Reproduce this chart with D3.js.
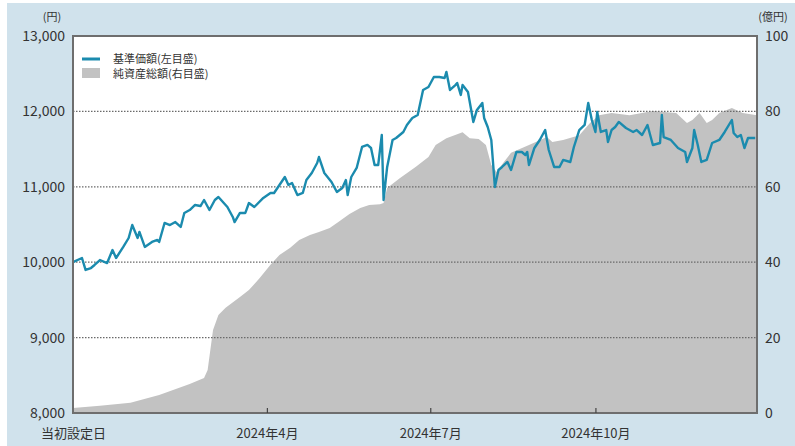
<!DOCTYPE html>
<html>
<head>
<meta charset="utf-8">
<script src="https://cdn.jsdelivr.net/npm/d3@7"></script>
<style>
  body { margin: 0; background: #fff; }
  text { font-family: "Noto Sans CJK JP", "Noto Sans", sans-serif; fill: #333; }
</style>
</head>
<body>
<svg width="795" height="446"></svg>
<script>
const svg = d3.select("svg");
const W = 795, H = 446;
const margin = { top: 36, right: 38, bottom: 33, left: 73 };
const width = W - margin.left - margin.right;
const height = H - margin.top - margin.bottom;

// 基準価額 (円)
const navDates = [
  "2023-12-15","2023-12-20","2023-12-22","2023-12-25","2023-12-27","2023-12-30",
  "2024-01-03","2024-01-06","2024-01-08","2024-01-12","2024-01-15","2024-01-17","2024-01-20","2024-01-21","2024-01-24","2024-01-28","2024-01-31",
  "2024-02-01","2024-02-04","2024-02-07","2024-02-10","2024-02-13","2024-02-15","2024-02-18","2024-02-21","2024-02-24","2024-02-26","2024-02-29",
  "2024-03-03","2024-03-05","2024-03-09","2024-03-10","2024-03-13","2024-03-14","2024-03-17","2024-03-20","2024-03-22","2024-03-25","2024-03-30",
  "2024-04-03","2024-04-05","2024-04-08","2024-04-11","2024-04-13","2024-04-15","2024-04-18","2024-04-21","2024-04-23","2024-04-26","2024-04-29","2024-04-30",
  "2024-05-03","2024-05-07","2024-05-10","2024-05-13","2024-05-15","2024-05-16","2024-05-18","2024-05-21","2024-05-24","2024-05-27","2024-05-29","2024-05-31",
  "2024-06-02","2024-06-04","2024-06-05","2024-06-07","2024-06-10","2024-06-12","2024-06-16","2024-06-18","2024-06-21","2024-06-24","2024-06-27","2024-06-30",
  "2024-07-03","2024-07-06","2024-07-09","2024-07-10","2024-07-12","2024-07-15","2024-07-16","2024-07-18","2024-07-19","2024-07-22","2024-07-25","2024-07-27","2024-07-30","2024-07-31",
  "2024-08-02","2024-08-04","2024-08-06","2024-08-08","2024-08-10","2024-08-13","2024-08-15","2024-08-18","2024-08-21","2024-08-23","2024-08-24","2024-08-25","2024-08-28","2024-08-31",
  "2024-09-03","2024-09-05","2024-09-08","2024-09-11","2024-09-13","2024-09-17","2024-09-19","2024-09-22","2024-09-25","2024-09-27","2024-09-29",
  "2024-10-01","2024-10-02","2024-10-04","2024-10-07","2024-10-08","2024-10-10","2024-10-12","2024-10-14","2024-10-18","2024-10-22","2024-10-24","2024-10-27","2024-10-30",
  "2024-11-02","2024-11-06","2024-11-07","2024-11-08","2024-11-12","2024-11-16","2024-11-20","2024-11-21","2024-11-24","2024-11-25","2024-11-27","2024-11-29",
  "2024-12-02","2024-12-05","2024-12-09","2024-12-12","2024-12-16","2024-12-17","2024-12-19","2024-12-21","2024-12-23","2024-12-25","2024-12-29"
];
const navValues = [
  10000,10056,9897,9923,9963,10029,
  9989,10162,10056,10202,10321,10493,10321,10401,10202,10268,10295,
  10268,10520,10493,10533,10467,10653,10692,10759,10745,10825,10692,
  10825,10865,10759,10732,10600,10533,10653,10653,10785,10732,10852,
  10918,10918,11024,11130,11024,11050,10891,10918,11090,11183,11316,11395,
  11183,11064,10931,10984,11090,10891,11130,11250,11528,11555,11515,11289,
  11289,11687,10825,11263,11621,11647,11727,11820,11913,11952,12284,12324,
  12456,12456,12443,12523,12284,12350,12377,12218,12350,12257,11860,12019,12112,11913,
  11793,11621,10997,11223,11263,11329,11223,11462,11462,11422,11462,11289,11515,11621,
  11753,11488,11263,11263,11356,11329,11528,11753,11820,12112,11886,
  11727,11992,11727,11753,11594,11753,11793,11860,11780,11727,11753,11687,11820,
  11554,11581,11952,11660,11621,11515,11462,11329,11515,11753,11554,11329,
  11356,11581,11621,11727,11886,11714,11660,11687,11515,11647,11647
];

// 純資産総額 (億円)
const assetDates = [
  "2023-12-15","2023-12-30","2024-01-16","2024-02-01","2024-02-18","2024-02-26","2024-02-28",
  "2024-03-02","2024-03-05","2024-03-09","2024-03-17","2024-03-22","2024-03-28",
  "2024-04-03","2024-04-08","2024-04-14","2024-04-19","2024-04-25","2024-04-30",
  "2024-05-06","2024-05-11","2024-05-17","2024-05-23","2024-05-28",
  "2024-06-03","2024-06-05","2024-06-07","2024-06-14","2024-06-23","2024-06-30",
  "2024-07-04","2024-07-10","2024-07-19","2024-07-23","2024-07-28",
  "2024-08-01","2024-08-04","2024-08-07","2024-08-11","2024-08-15","2024-08-25",
  "2024-09-04","2024-09-07","2024-09-13","2024-09-22","2024-09-28",
  "2024-10-03","2024-10-10","2024-10-20",
  "2024-11-02","2024-11-15","2024-11-21","2024-11-24","2024-11-28",
  "2024-12-02","2024-12-05","2024-12-09","2024-12-16","2024-12-22","2024-12-30"
];
const assetValues = [
  1.3,1.9,2.7,4.8,7.7,9.3,11.4,
  22.0,26.0,27.9,30.8,32.6,35.8,
  39.3,41.9,43.8,45.9,47.2,48.0,
  49.1,50.7,52.8,54.4,55.2,
  55.4,55.7,59.7,62.3,65.3,67.9,
  71.1,72.9,74.5,72.9,72.7,
  71.1,65.8,63.9,66.6,69.0,71.1,
  73.2,71.9,72.4,73.7,76.9,
  79.0,79.6,79.0,
  80.1,79.6,76.9,77.7,79.6,
  76.9,77.7,79.6,80.9,79.6,79.0
];

const leftTicks = [8000, 9000, 10000, 11000, 12000, 13000];
const rightTicks = [0, 20, 40, 60, 80, 100];
const xTickDates = ["2023-12-15", "2024-04-01", "2024-07-01", "2024-10-01"];
const xTickLabels = ["当初設定日", "2024年4月", "2024年7月", "2024年10月"];
const legendLabels = ["基準価額(左目盛)", "純資産総額(右目盛)"];

const parse = d3.timeParse("%Y-%m-%d");
const nav = navDates.map((d, i) => ({ date: parse(d), v: navValues[i] }));
const assets = assetDates.map((d, i) => ({ date: parse(d), v: assetValues[i] }));

const x = d3.scaleTime()
  .domain([parse("2023-12-15"), parse("2024-12-30")])
  .range([0, width]);
const yL = d3.scaleLinear().domain([8000, 13000]).range([height, 0]);
const yR = d3.scaleLinear().domain([0, 100]).range([height, 0]);

// background
svg.append("rect").attr("x", 7).attr("y", 3).attr("width", W - 7).attr("height", H - 3)
  .attr("fill", "#d0e2ec");

const g = svg.append("g").attr("transform", `translate(${margin.left},${margin.top})`);

g.append("rect").attr("width", width).attr("height", height).attr("fill", "#fff");

// net assets area
g.append("path")
  .datum(assets)
  .attr("fill", "#c2c2c2")
  .attr("d", d3.area().x(d => x(d.date)).y0(height).y1(d => yR(d.v)));

// grid lines
g.append("g")
  .selectAll("line")
  .data(leftTicks.slice(1, -1))
  .join("line")
  .attr("x1", 0).attr("x2", width)
  .attr("y1", d => yL(d)).attr("y2", d => yL(d))
  .attr("stroke", "#6a6a6a")
  .attr("stroke-width", 1.3)
  .attr("stroke-dasharray", "1.5,1.5");

// NAV line
g.append("path")
  .datum(nav)
  .attr("fill", "none")
  .attr("stroke", "#1b8bae")
  .attr("stroke-width", 2.4)
  .attr("stroke-linejoin", "round")
  .attr("d", d3.line().x(d => x(d.date)).y(d => yL(d.v)));

// frame
g.append("rect").attr("width", width).attr("height", height)
  .attr("fill", "none").attr("stroke", "#6e6e6e").attr("stroke-width", 2);

// axes
const fmt = d3.format(",");
const axL = g.append("g")
  .call(d3.axisLeft(yL).tickValues(leftTicks).tickFormat(fmt).tickSize(0).tickPadding(8));
axL.select(".domain").remove();
axL.selectAll("text").attr("font-size", 14).attr("fill", "#333")
  .style("font-family", "'Noto Sans CJK JP', sans-serif");

const axR = g.append("g").attr("transform", `translate(${width},0)`)
  .call(d3.axisRight(yR).tickValues(rightTicks).tickSize(0).tickPadding(8));
axR.select(".domain").remove();
axR.selectAll("text").attr("font-size", 14).attr("fill", "#333")
  .style("font-family", "'Noto Sans CJK JP', sans-serif");

const axB = g.append("g").attr("transform", `translate(0,${height})`)
  .call(d3.axisBottom(x).tickValues(xTickDates.map(parse))
    .tickFormat((d, i) => xTickLabels[i]).tickSizeInner(-5).tickSizeOuter(0).tickPadding(16));
axB.select(".domain").remove();
axB.selectAll(".tick line").attr("stroke", "#444").attr("stroke-width", 1.2);
axB.selectAll(".tick").filter((d, i) => i === 0).select("line").remove();
axB.selectAll("text").attr("font-size", 13).attr("fill", "#333")
  .style("font-family", "'Noto Sans CJK JP', sans-serif");

// unit labels
svg.append("text").attr("x", 52).attr("y", 21).attr("text-anchor", "middle")
  .attr("font-size", 11).text("(円)");
svg.append("text").attr("x", 773).attr("y", 21).attr("text-anchor", "middle")
  .attr("font-size", 11).text("(億円)");

// legend
const lg = svg.append("g").attr("transform", "translate(82,59)");
lg.append("line").attr("x1", 0).attr("x2", 18).attr("y1", 0).attr("y2", 0)
  .attr("stroke", "#1b8bae").attr("stroke-width", 3);
lg.append("rect").attr("x", 0).attr("y", 9).attr("width", 18).attr("height", 10)
  .attr("fill", "#c2c2c2");
lg.selectAll("text").data(legendLabels).join("text")
  .attr("x", 31).attr("y", (d, i) => i * 14.5 + 4)
  .attr("font-size", 11).attr("fill", "#444").text(d => d);
</script>
</body>
</html>
